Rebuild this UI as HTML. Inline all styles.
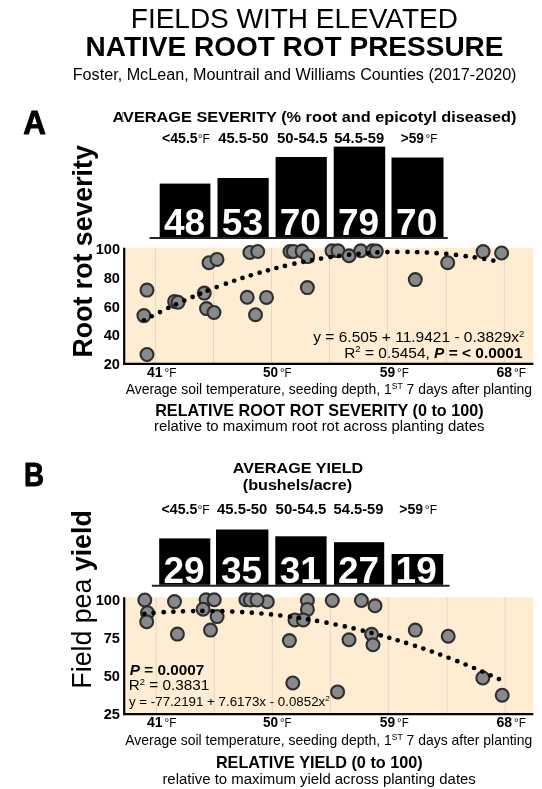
<!DOCTYPE html>
<html><head><meta charset="utf-8"><title>Native root rot pressure</title>
<style>html,body{margin:0;padding:0;background:#fff;width:542px;height:789px;overflow:hidden}svg{display:block;filter:blur(0.2px);font-family:"Liberation Sans", sans-serif}</style>
</head><body>
<svg width="542" height="789" viewBox="0 0 542 789">
<rect x="125.3" y="247.7" width="407.99999999999994" height="115.90000000000003" fill="#FEEDD3"/>
<line x1="155.4" y1="247.7" x2="155.4" y2="363.6" stroke="#E2D8CA" stroke-width="1"/>
<line x1="213.5" y1="247.7" x2="213.5" y2="363.6" stroke="#E2D8CA" stroke-width="1"/>
<line x1="271.5" y1="247.7" x2="271.5" y2="363.6" stroke="#E2D8CA" stroke-width="1"/>
<line x1="329.5" y1="247.7" x2="329.5" y2="363.6" stroke="#E2D8CA" stroke-width="1"/>
<line x1="387.5" y1="247.7" x2="387.5" y2="363.6" stroke="#E2D8CA" stroke-width="1"/>
<line x1="446.3" y1="247.7" x2="446.3" y2="363.6" stroke="#E2D8CA" stroke-width="1"/>
<line x1="504.4" y1="247.7" x2="504.4" y2="363.6" stroke="#E2D8CA" stroke-width="1"/>
<line x1="124.2" y1="247.7" x2="124.2" y2="364.8" stroke="#000" stroke-width="2.2"/>
<line x1="123.2" y1="363.8" x2="533.3" y2="363.8" stroke="#000" stroke-width="2.2"/>
<rect x="159.7" y="183.6" width="50.70000000000002" height="53.400000000000006" fill="#000"/>
<rect x="217.5" y="178" width="51.19999999999999" height="59.0" fill="#000"/>
<rect x="275.6" y="157" width="51.19999999999999" height="80.0" fill="#000"/>
<rect x="333.7" y="146.6" width="51.5" height="90.4" fill="#000"/>
<rect x="391.5" y="157.5" width="52.0" height="79.5" fill="#000"/>
<line x1="149.6" y1="238.0" x2="447.7" y2="238.0" stroke="#222" stroke-width="2"/>
<g fill="#88898b" stroke="#2e2e2e" stroke-width="2.1"><circle cx="147.0" cy="290.1" r="6.45"/><circle cx="143.9" cy="315.6" r="6.45"/><circle cx="147.0" cy="354.5" r="6.45"/><circle cx="174.6" cy="301.4" r="6.45"/><circle cx="178.0" cy="302.3" r="6.45"/><circle cx="204.3" cy="293.1" r="6.45"/><circle cx="206.5" cy="308.6" r="6.45"/><circle cx="214.0" cy="312.5" r="6.45"/><circle cx="209.0" cy="262.7" r="6.45"/><circle cx="217.0" cy="259.4" r="6.45"/><circle cx="249.9" cy="252.5" r="6.45"/><circle cx="257.7" cy="251.5" r="6.45"/><circle cx="247.2" cy="297.3" r="6.45"/><circle cx="266.5" cy="297.4" r="6.45"/><circle cx="255.5" cy="314.7" r="6.45"/><circle cx="290.0" cy="251.5" r="6.45"/><circle cx="293.3" cy="251.5" r="6.45"/><circle cx="302.1" cy="251.1" r="6.45"/><circle cx="307.7" cy="256.6" r="6.45"/><circle cx="307.4" cy="287.6" r="6.45"/><circle cx="332.0" cy="250.8" r="6.45"/><circle cx="338.0" cy="250.8" r="6.45"/><circle cx="349.0" cy="255.8" r="6.45"/><circle cx="360.8" cy="250.8" r="6.45"/><circle cx="372.5" cy="250.8" r="6.45"/><circle cx="376.3" cy="251.1" r="6.45"/><circle cx="415.3" cy="279.6" r="6.45"/><circle cx="447.7" cy="262.7" r="6.45"/><circle cx="483.1" cy="251.6" r="6.45"/><circle cx="501.6" cy="253.0" r="6.45"/></g>
<g fill="#000"><circle cx="143.90" cy="320.31" r="2.35"/><circle cx="151.70" cy="316.23" r="2.35"/><circle cx="160.00" cy="312.03" r="2.35"/><circle cx="168.30" cy="307.96" r="2.35"/><circle cx="176.00" cy="304.32" r="2.35"/><circle cx="184.30" cy="300.53" r="2.35"/><circle cx="192.60" cy="296.88" r="2.35"/><circle cx="200.10" cy="293.71" r="2.35"/><circle cx="207.60" cy="290.65" r="2.35"/><circle cx="216.70" cy="287.10" r="2.35"/><circle cx="225.90" cy="283.68" r="2.35"/><circle cx="234.20" cy="280.74" r="2.35"/><circle cx="242.50" cy="277.95" r="2.35"/><circle cx="250.80" cy="275.30" r="2.35"/><circle cx="259.60" cy="272.64" r="2.35"/><circle cx="267.90" cy="270.28" r="2.35"/><circle cx="276.40" cy="268.02" r="2.35"/><circle cx="284.90" cy="265.90" r="2.35"/><circle cx="294.40" cy="263.70" r="2.35"/><circle cx="303.20" cy="261.84" r="2.35"/><circle cx="312.10" cy="260.12" r="2.35"/><circle cx="321.00" cy="258.56" r="2.35"/><circle cx="330.50" cy="257.07" r="2.35"/><circle cx="339.30" cy="255.87" r="2.35"/><circle cx="349.10" cy="254.71" r="2.35"/><circle cx="358.60" cy="253.77" r="2.35"/><circle cx="368.10" cy="253.03" r="2.35"/><circle cx="377.40" cy="252.47" r="2.35"/><circle cx="387.40" cy="252.08" r="2.35"/><circle cx="397.30" cy="251.89" r="2.35"/><circle cx="407.50" cy="251.91" r="2.35"/><circle cx="417.20" cy="252.13" r="2.35"/><circle cx="426.90" cy="252.54" r="2.35"/><circle cx="436.60" cy="253.15" r="2.35"/><circle cx="446.30" cy="253.95" r="2.35"/><circle cx="456.00" cy="254.94" r="2.35"/><circle cx="465.70" cy="256.13" r="2.35"/><circle cx="474.80" cy="257.42" r="2.35"/><circle cx="484.20" cy="258.93" r="2.35"/><circle cx="493.30" cy="260.57" r="2.35"/></g>
<rect x="125.3" y="597.2" width="407.99999999999994" height="116.69999999999993" fill="#FEEDD3"/>
<line x1="156.20000000000002" y1="597.2" x2="156.20000000000002" y2="713.9" stroke="#E2D8CA" stroke-width="1"/>
<line x1="214.3" y1="597.2" x2="214.3" y2="713.9" stroke="#E2D8CA" stroke-width="1"/>
<line x1="272.3" y1="597.2" x2="272.3" y2="713.9" stroke="#E2D8CA" stroke-width="1"/>
<line x1="330.3" y1="597.2" x2="330.3" y2="713.9" stroke="#E2D8CA" stroke-width="1"/>
<line x1="388.3" y1="597.2" x2="388.3" y2="713.9" stroke="#E2D8CA" stroke-width="1"/>
<line x1="447.1" y1="597.2" x2="447.1" y2="713.9" stroke="#E2D8CA" stroke-width="1"/>
<line x1="505.2" y1="597.2" x2="505.2" y2="713.9" stroke="#E2D8CA" stroke-width="1"/>
<line x1="124.2" y1="597.2" x2="124.2" y2="715.1" stroke="#000" stroke-width="2.2"/>
<line x1="123.2" y1="714.1" x2="533.3" y2="714.1" stroke="#000" stroke-width="2.2"/>
<rect x="159.2" y="538.4" width="51.10000000000002" height="46.39999999999998" fill="#000"/>
<rect x="216.0" y="529.5" width="52.39999999999998" height="55.299999999999955" fill="#000"/>
<rect x="275.3" y="536.3" width="51.30000000000001" height="48.5" fill="#000"/>
<rect x="334" y="542.2" width="50.19999999999999" height="42.59999999999991" fill="#000"/>
<rect x="391.6" y="554" width="51.599999999999966" height="30.799999999999955" fill="#000"/>
<line x1="151.8" y1="585.8" x2="449.5" y2="585.8" stroke="#222" stroke-width="2"/>
<g fill="#88898b" stroke="#2e2e2e" stroke-width="2.1"><circle cx="144.8" cy="600.0" r="6.45"/><circle cx="147.5" cy="612.7" r="6.45"/><circle cx="146.7" cy="621.8" r="6.45"/><circle cx="174.5" cy="601.6" r="6.45"/><circle cx="177.4" cy="634.1" r="6.45"/><circle cx="206.1" cy="599.8" r="6.45"/><circle cx="214.2" cy="599.8" r="6.45"/><circle cx="203.1" cy="609.2" r="6.45"/><circle cx="217.1" cy="616.6" r="6.45"/><circle cx="210.5" cy="630.1" r="6.45"/><circle cx="245.9" cy="599.8" r="6.45"/><circle cx="250.4" cy="600.0" r="6.45"/><circle cx="267.3" cy="601.8" r="6.45"/><circle cx="257.0" cy="600.0" r="6.45"/><circle cx="307.4" cy="600.5" r="6.45"/><circle cx="307.4" cy="609.4" r="6.45"/><circle cx="295.0" cy="619.9" r="6.45"/><circle cx="303.3" cy="619.9" r="6.45"/><circle cx="289.4" cy="640.6" r="6.45"/><circle cx="292.8" cy="683.0" r="6.45"/><circle cx="332.3" cy="600.5" r="6.45"/><circle cx="361.4" cy="600.5" r="6.45"/><circle cx="375.0" cy="605.8" r="6.45"/><circle cx="349.0" cy="639.8" r="6.45"/><circle cx="337.6" cy="691.9" r="6.45"/><circle cx="371.6" cy="634.3" r="6.45"/><circle cx="373.0" cy="644.8" r="6.45"/><circle cx="415.3" cy="630.1" r="6.45"/><circle cx="448.2" cy="636.2" r="6.45"/><circle cx="482.8" cy="678.0" r="6.45"/><circle cx="502.2" cy="695.2" r="6.45"/></g>
<g fill="#000"><circle cx="144.30" cy="613.74" r="2.35"/><circle cx="153.50" cy="612.94" r="2.35"/><circle cx="163.70" cy="612.21" r="2.35"/><circle cx="173.40" cy="611.67" r="2.35"/><circle cx="183.00" cy="611.28" r="2.35"/><circle cx="193.20" cy="611.03" r="2.35"/><circle cx="202.40" cy="610.94" r="2.35"/><circle cx="212.40" cy="610.99" r="2.35"/><circle cx="222.30" cy="611.20" r="2.35"/><circle cx="232.30" cy="611.56" r="2.35"/><circle cx="242.20" cy="612.07" r="2.35"/><circle cx="251.80" cy="612.72" r="2.35"/><circle cx="261.40" cy="613.51" r="2.35"/><circle cx="271.00" cy="614.44" r="2.35"/><circle cx="280.30" cy="615.49" r="2.35"/><circle cx="290.00" cy="616.72" r="2.35"/><circle cx="299.10" cy="618.01" r="2.35"/><circle cx="308.00" cy="619.40" r="2.35"/><circle cx="317.10" cy="620.94" r="2.35"/><circle cx="326.50" cy="622.68" r="2.35"/><circle cx="335.60" cy="624.49" r="2.35"/><circle cx="344.80" cy="626.45" r="2.35"/><circle cx="353.60" cy="628.45" r="2.35"/><circle cx="362.80" cy="630.67" r="2.35"/><circle cx="371.60" cy="632.92" r="2.35"/><circle cx="380.80" cy="635.40" r="2.35"/><circle cx="389.30" cy="637.81" r="2.35"/><circle cx="397.60" cy="640.28" r="2.35"/><circle cx="406.10" cy="642.91" r="2.35"/><circle cx="415.00" cy="645.79" r="2.35"/><circle cx="423.30" cy="648.59" r="2.35"/><circle cx="431.90" cy="651.60" r="2.35"/><circle cx="440.20" cy="654.62" r="2.35"/><circle cx="448.50" cy="657.74" r="2.35"/><circle cx="457.30" cy="661.17" r="2.35"/><circle cx="465.60" cy="664.52" r="2.35"/><circle cx="474.00" cy="668.02" r="2.35"/><circle cx="482.30" cy="671.58" r="2.35"/><circle cx="490.60" cy="675.26" r="2.35"/><circle cx="498.90" cy="679.04" r="2.35"/></g>
<g transform="translate(130.78,28.30) scale(1.0294,1)"><text x="0" y="0" font-size="27.2" fill="#000" style="white-space:pre"><tspan font-weight="400">FIELDS WITH ELEVATED</tspan></text></g>
<g transform="translate(85.55,56.10)"><text x="0" y="0" font-size="28" fill="#000" style="white-space:pre"><tspan font-weight="700">NATIVE ROOT ROT PRESSURE</tspan></text></g>
<g transform="translate(72.74,79.80) scale(1.0105,1)"><text x="0" y="0" font-size="16" fill="#000" style="white-space:pre"><tspan font-weight="400">Foster, McLean, Mountrail and Williams Counties (2017-2020)</tspan></text></g>
<g transform="translate(23.26,133.80) scale(0.9609,1)"><text x="0" y="0" font-size="32.6" fill="#000" stroke="#000" stroke-width="0.9" stroke-linejoin="round" style="white-space:pre"><tspan font-weight="700">A</tspan></text></g>
<g transform="translate(112.57,121.80) scale(1.0513,1)"><text x="0" y="0" font-size="15.5" fill="#000" style="white-space:pre"><tspan font-weight="700">AVERAGE SEVERITY (% root and epicotyl diseased)</tspan></text></g>
<g transform="translate(162.10,143.40) scale(1.0053,1)"><text x="0" y="0" font-size="14" fill="#000" style="white-space:pre"><tspan font-weight="700">&lt;45.5</tspan><tspan font-weight="400" font-size="12.04">°F</tspan></text></g>
<g transform="translate(218.14,143.40) scale(1.0588,1)"><text x="0" y="0" font-size="14" fill="#000" style="white-space:pre"><tspan font-weight="700">45.5-50</tspan></text></g>
<g transform="translate(277.07,143.40) scale(1.0645,1)"><text x="0" y="0" font-size="14" fill="#000" style="white-space:pre"><tspan font-weight="700">50-54.5</tspan></text></g>
<g transform="translate(334.17,143.40) scale(1.0516,1)"><text x="0" y="0" font-size="14" fill="#000" style="white-space:pre"><tspan font-weight="700">54.5-59</tspan></text></g>
<g transform="translate(400.71,143.40) scale(0.9741,1)"><text x="0" y="0" font-size="14" fill="#000" style="white-space:pre"><tspan font-weight="700">&gt;59</tspan><tspan font-weight="400" font-size="12.04" dx="1.8">°F</tspan></text></g>
<g transform="translate(313.30,342.10) scale(1.0341,1)"><text x="0" y="0" font-size="15" fill="#000" style="white-space:pre"><tspan font-weight="400">y = 6.505 + 11.9421 - 0.3829x</tspan><tspan font-weight="400" font-size="9.30" dy="-5.5">2</tspan></text></g>
<g transform="translate(344.21,357.70) scale(1.0297,1)"><text x="0" y="0" font-size="15" fill="#000" style="white-space:pre"><tspan font-weight="400">R</tspan><tspan font-weight="400" font-size="9.30" dy="-5.5">2</tspan><tspan font-weight="400" dy="5.5"> = 0.5454, </tspan><tspan font-weight="700" font-style="italic">P</tspan><tspan font-weight="700"> = &lt; 0.0001</tspan></text></g>
<g transform="translate(125.70,394.40) scale(0.9957,1)"><text x="0" y="0" font-size="14" fill="#000" style="white-space:pre"><tspan font-weight="400">Average soil temperature, seeding depth, 1</tspan><tspan font-weight="400" font-size="8.68" dy="-5">ST</tspan><tspan font-weight="400" dy="5"> 7 days after planting</tspan></text></g>
<g transform="translate(155.19,416.30) scale(1.0124,1)"><text x="0" y="0" font-size="16" fill="#000" style="white-space:pre"><tspan font-weight="700">RELATIVE ROOT ROT SEVERITY (0 to 100)</tspan></text></g>
<g transform="translate(153.90,430.50) scale(0.9965,1)"><text x="0" y="0" font-size="15" fill="#000" style="white-space:pre"><tspan font-weight="400">relative to maximum root rot across planting dates</tspan></text></g>
<g transform="translate(24.01,486.00) scale(0.8530,1)"><text x="0" y="0" font-size="32.6" fill="#000" stroke="#000" stroke-width="0.9" stroke-linejoin="round" style="white-space:pre"><tspan font-weight="700">B</tspan></text></g>
<g transform="translate(232.78,473.30) scale(1.0427,1)"><text x="0" y="0" font-size="15.5" fill="#000" style="white-space:pre"><tspan font-weight="700">AVERAGE YIELD</tspan></text></g>
<g transform="translate(242.82,490.00) scale(1.0415,1)"><text x="0" y="0" font-size="15.5" fill="#000" style="white-space:pre"><tspan font-weight="700">(bushels/acre)</tspan></text></g>
<g transform="translate(161.59,514.20) scale(1.0118,1)"><text x="0" y="0" font-size="14" fill="#000" style="white-space:pre"><tspan font-weight="700">&lt;45.5</tspan><tspan font-weight="400" font-size="12.04">°F</tspan></text></g>
<g transform="translate(217.03,514.20) scale(1.0610,1)"><text x="0" y="0" font-size="14" fill="#000" style="white-space:pre"><tspan font-weight="700">45.5-50</tspan></text></g>
<g transform="translate(275.56,514.20) scale(1.0710,1)"><text x="0" y="0" font-size="14" fill="#000" style="white-space:pre"><tspan font-weight="700">50-54.5</tspan></text></g>
<g transform="translate(333.47,514.20) scale(1.0559,1)"><text x="0" y="0" font-size="14" fill="#000" style="white-space:pre"><tspan font-weight="700">54.5-59</tspan></text></g>
<g transform="translate(399.20,514.20) scale(1.0041,1)"><text x="0" y="0" font-size="14" fill="#000" style="white-space:pre"><tspan font-weight="700">&gt;59</tspan><tspan font-weight="400" font-size="12.04" dx="1.8">°F</tspan></text></g>
<g transform="translate(129.73,674.50) scale(1.0959,1)"><text x="0" y="0" font-size="14" fill="#000" style="white-space:pre"><tspan font-weight="700" font-style="italic">P</tspan><tspan font-weight="700"> = 0.0007</tspan></text></g>
<g transform="translate(128.72,690.20) scale(1.0208,1)"><text x="0" y="0" font-size="15" fill="#000" style="white-space:pre"><tspan font-weight="400">R</tspan><tspan font-weight="400" font-size="9.30" dy="-5.5">2</tspan><tspan font-weight="400" dy="5.5"> = 0.3831</tspan></text></g>
<g transform="translate(129.00,705.50) scale(1.0248,1)"><text x="0" y="0" font-size="13" fill="#000" style="white-space:pre"><tspan font-weight="400">y = -77.2191 + 7.6173x - 0.0852x</tspan><tspan font-weight="400" font-size="8.06" dy="-5">2</tspan></text></g>
<g transform="translate(125.20,744.90) scale(0.9969,1)"><text x="0" y="0" font-size="14" fill="#000" style="white-space:pre"><tspan font-weight="400">Average soil temperature, seeding depth, 1</tspan><tspan font-weight="400" font-size="8.68" dy="-5">ST</tspan><tspan font-weight="400" dy="5"> 7 days after planting</tspan></text></g>
<g transform="translate(215.88,768.40) scale(1.0153,1)"><text x="0" y="0" font-size="16" fill="#000" style="white-space:pre"><tspan font-weight="700">RELATIVE YIELD (0 to 100)</tspan></text></g>
<g transform="translate(162.40,783.90) scale(0.9952,1)"><text x="0" y="0" font-size="15" fill="#000" style="white-space:pre"><tspan font-weight="400">relative to maximum yield across planting dates</tspan></text></g>
<g transform="translate(91.60,357.43) rotate(-90) scale(0.9894,1)"><text x="0" y="0" font-size="27" fill="#000" style="white-space:pre"><tspan font-weight="700">Root rot severity</tspan></text></g>
<g transform="translate(91.20,688.63) rotate(-90) scale(0.9909,1)"><text x="0" y="0" font-size="27" fill="#000" style="white-space:pre"><tspan font-weight="400">Field pea </tspan><tspan font-weight="700">yield</tspan></text></g>
<g transform="translate(95.75,254.30)"><text x="0" y="0" font-size="14.6" fill="#000" style="white-space:pre"><tspan font-weight="700">100</tspan></text></g>
<g transform="translate(103.75,283.20)"><text x="0" y="0" font-size="14.6" fill="#000" style="white-space:pre"><tspan font-weight="700">80</tspan></text></g>
<g transform="translate(103.75,311.60)"><text x="0" y="0" font-size="14.6" fill="#000" style="white-space:pre"><tspan font-weight="700">60</tspan></text></g>
<g transform="translate(103.75,340.00)"><text x="0" y="0" font-size="14.6" fill="#000" style="white-space:pre"><tspan font-weight="700">40</tspan></text></g>
<g transform="translate(103.75,368.50)"><text x="0" y="0" font-size="14.6" fill="#000" style="white-space:pre"><tspan font-weight="700">20</tspan></text></g>
<g transform="translate(95.75,605.10)"><text x="0" y="0" font-size="14.6" fill="#000" style="white-space:pre"><tspan font-weight="700">100</tspan></text></g>
<g transform="translate(103.75,643.30)"><text x="0" y="0" font-size="14.6" fill="#000" style="white-space:pre"><tspan font-weight="700">75</tspan></text></g>
<g transform="translate(103.75,681.00)"><text x="0" y="0" font-size="14.6" fill="#000" style="white-space:pre"><tspan font-weight="700">50</tspan></text></g>
<g transform="translate(103.75,718.60)"><text x="0" y="0" font-size="14.6" fill="#000" style="white-space:pre"><tspan font-weight="700">25</tspan></text></g>
<g transform="translate(146.96,376.90) scale(0.9763,1)"><text x="0" y="0" font-size="14.4" fill="#000" style="white-space:pre"><tspan font-weight="700">41</tspan><tspan font-weight="400" font-size="12.10" dx="2.0">°F</tspan></text></g>
<g transform="translate(263.03,376.90) scale(0.9402,1)"><text x="0" y="0" font-size="14.4" fill="#000" style="white-space:pre"><tspan font-weight="700">50</tspan><tspan font-weight="400" font-size="12.10" dx="2.0">°F</tspan></text></g>
<g transform="translate(379.82,376.90) scale(0.9573,1)"><text x="0" y="0" font-size="14.4" fill="#000" style="white-space:pre"><tspan font-weight="700">59</tspan><tspan font-weight="400" font-size="12.10" dx="2.0">°F</tspan></text></g>
<g transform="translate(496.51,376.90) scale(0.9778,1)"><text x="0" y="0" font-size="14.4" fill="#000" style="white-space:pre"><tspan font-weight="700">68</tspan><tspan font-weight="400" font-size="12.10" dx="2.0">°F</tspan></text></g>
<g transform="translate(146.96,727.30) scale(0.9763,1)"><text x="0" y="0" font-size="14.4" fill="#000" style="white-space:pre"><tspan font-weight="700">41</tspan><tspan font-weight="400" font-size="12.10" dx="2.0">°F</tspan></text></g>
<g transform="translate(263.03,727.30) scale(0.9402,1)"><text x="0" y="0" font-size="14.4" fill="#000" style="white-space:pre"><tspan font-weight="700">50</tspan><tspan font-weight="400" font-size="12.10" dx="2.0">°F</tspan></text></g>
<g transform="translate(379.82,727.30) scale(0.9573,1)"><text x="0" y="0" font-size="14.4" fill="#000" style="white-space:pre"><tspan font-weight="700">59</tspan><tspan font-weight="400" font-size="12.10" dx="2.0">°F</tspan></text></g>
<g transform="translate(496.51,727.30) scale(0.9778,1)"><text x="0" y="0" font-size="14.4" fill="#000" style="white-space:pre"><tspan font-weight="700">68</tspan><tspan font-weight="400" font-size="12.10" dx="2.0">°F</tspan></text></g>
<g transform="translate(164.00,235.30)"><text x="0" y="0" font-size="37" fill="#fff" style="white-space:pre"><tspan font-weight="700">48</tspan></text></g>
<g transform="translate(221.80,235.30)"><text x="0" y="0" font-size="37" fill="#fff" style="white-space:pre"><tspan font-weight="700">53</tspan></text></g>
<g transform="translate(279.78,235.30)"><text x="0" y="0" font-size="37" fill="#fff" style="white-space:pre"><tspan font-weight="700">70</tspan></text></g>
<g transform="translate(338.02,235.30)"><text x="0" y="0" font-size="37" fill="#fff" style="white-space:pre"><tspan font-weight="700">79</tspan></text></g>
<g transform="translate(396.07,235.30)"><text x="0" y="0" font-size="37" fill="#fff" style="white-space:pre"><tspan font-weight="700">70</tspan></text></g>
<g transform="translate(163.45,582.60)"><text x="0" y="0" font-size="37" fill="#fff" style="white-space:pre"><tspan font-weight="700">29</tspan></text></g>
<g transform="translate(221.02,582.60)"><text x="0" y="0" font-size="37" fill="#fff" style="white-space:pre"><tspan font-weight="700">35</tspan></text></g>
<g transform="translate(279.65,582.60)"><text x="0" y="0" font-size="37" fill="#fff" style="white-space:pre"><tspan font-weight="700">31</tspan></text></g>
<g transform="translate(337.93,582.60)"><text x="0" y="0" font-size="37" fill="#fff" style="white-space:pre"><tspan font-weight="700">27</tspan></text></g>
<g transform="translate(395.60,582.60)"><text x="0" y="0" font-size="37" fill="#fff" style="white-space:pre"><tspan font-weight="700">19</tspan></text></g>
<line x1="122.4" y1="112.2" x2="122.4" y2="121.4" stroke="#8a8a8a" stroke-width="1"/>
</svg>
</body></html>
